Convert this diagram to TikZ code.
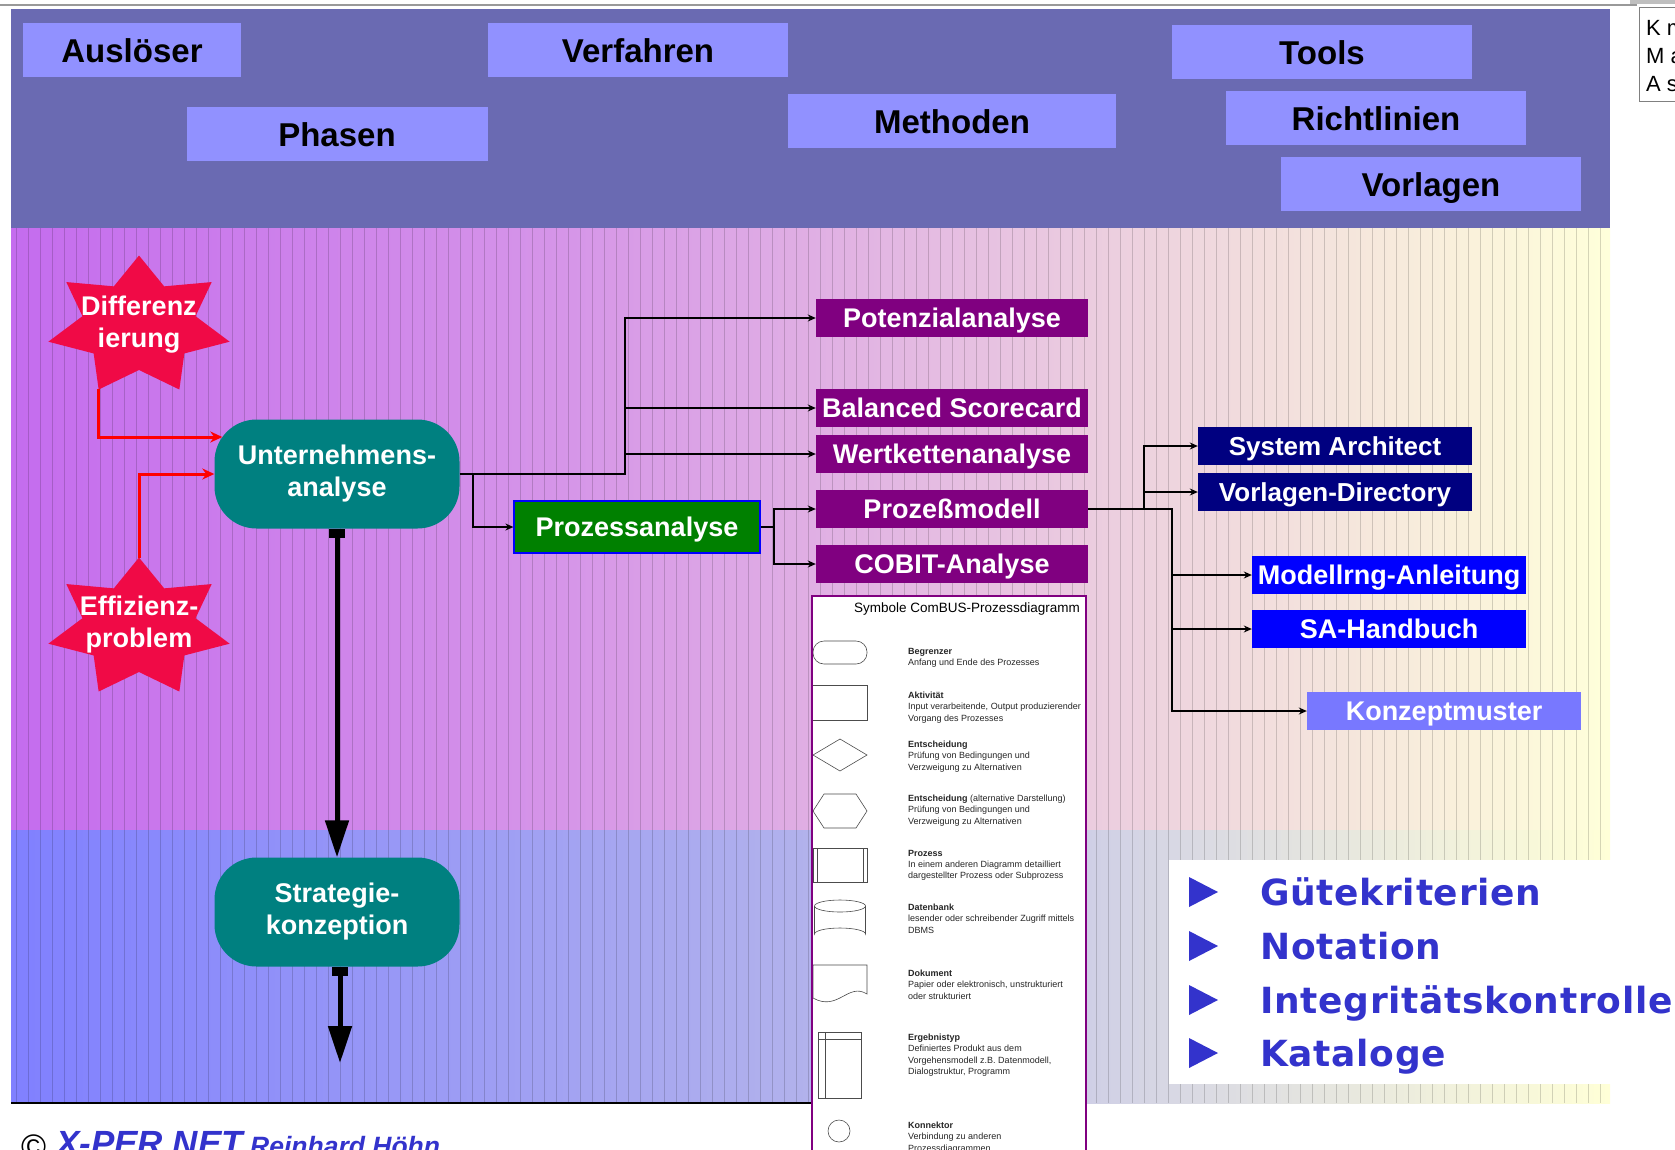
\documentclass[tikz,border=0pt]{standalone}
\usepackage{fontspec}
\setmainfont{Liberation Sans}
\newfontfamily\bulletfont[LetterSpace=2]{DejaVu Sans}
\usetikzlibrary{arrows.meta}

\definecolor{headband}{RGB}{106,106,178}
\definecolor{headfill}{RGB}{145,145,255}
\definecolor{starred}{RGB}{240,10,70}
\definecolor{phaseteal}{RGB}{0,128,128}
\definecolor{methpurple}{RGB}{128,0,128}
\definecolor{procgreen}{RGB}{0,128,0}
\definecolor{toolnavy}{RGB}{0,0,128}
\definecolor{guideblue}{RGB}{0,0,255}
\definecolor{patternblue}{RGB}{120,120,255}
\definecolor{bulletblue}{RGB}{51,51,204}

\pgfdeclarehorizontalshading{midband}{100bp}{rgb(0bp)=(0.769,0.424,0.933); rgb(25bp)=(0.769,0.424,0.933); rgb(42.5bp)=(0.839,0.588,0.91); rgb(50bp)=(0.878,0.686,0.894); rgb(61bp)=(0.933,0.831,0.871); rgb(75bp)=(1,1,0.855); rgb(100bp)=(1,1,0.855)}
\pgfdeclarehorizontalshading{lowband}{100bp}{rgb(0bp)=(0.502,0.502,1); rgb(25bp)=(0.502,0.502,1); rgb(50bp)=(0.698,0.698,0.925); rgb(61bp)=(0.843,0.843,0.894); rgb(75bp)=(1,1,0.843); rgb(100bp)=(1,1,0.843)}

\begin{document}
\begin{tikzpicture}[x=1pt,y=-1pt,
	headbox/.style={fill=headfill, minimum height=54pt, inner sep=0pt, text height=24pt, text depth=0pt, font=\fontsize{33}{36}\selectfont\bfseries},
	phase/.style={fill=phaseteal, rounded corners=42pt, minimum width=245pt, minimum height=109pt, align=center, text=white, font=\fontsize{27}{32}\selectfont\bfseries},
	startxt/.style={minimum width=182pt, minimum height=134pt, inner sep=0pt, align=center, text=white, font=\fontsize{27}{32}\selectfont\bfseries},
	methbox/.style={fill=methpurple, text=white, minimum width=272pt, minimum height=38pt, inner sep=0pt, text height=19.5pt, text depth=0pt, font=\fontsize{27}{30}\selectfont\bfseries},
	toolbox/.style={fill=toolnavy, text=white, minimum width=274pt, minimum height=38pt, inner sep=0pt, text height=19pt, text depth=0pt, font=\fontsize{26}{30}\selectfont\bfseries},
	guidebox/.style={toolbox, fill=guideblue, font=\fontsize{27}{30}\selectfont\bfseries},
	flow/.style={line width=1.6pt, -{Stealth[length=8pt,width=7pt]}},
	redflow/.style={red, line width=3pt, -{Stealth[length=12pt,width=11pt]}},
	mainflow/.style={line width=5pt, {Square[length=9pt,width=16pt]}-{Triangle[length=37pt,width=23pt]}},
	stripe/.style={black, opacity=0.16, line width=0.7pt},
	legtext/.style={anchor=north west, inner sep=0pt, align=left, text=black!85, font=\fontsize{9}{11.2}\selectfont},
	symb/.style={draw=black!70, line width=0.6pt},
	bullettxt/.style={anchor=base west, inner sep=0pt, text=bulletblue, font=\bulletfont\fontsize{36}{38}\selectfont\bfseries}]
	\useasboundingbox (0,0) rectangle (1675,1149);
	% bands
	\draw[black!40, line width=2pt] (0,5) -- (1637,5);
	\fill[headband] (11,9) rectangle (1610,228);
	\shade[shading=midband] (11,228) rectangle (1610,830);
	\shade[shading=lowband] (11,830) rectangle (1610,1103);
	\foreach \x in {16,28,...,1610}
		\draw[stripe] (\x,228) -- (\x,1103);
	\draw[line width=1.5pt] (11,1103) -- (812,1103);
	% corner fragment
	\fill[black!25] (1630,0) rectangle (1675,4);
	\draw[black!50, fill=white] (1639,7) rectangle (1700,101);
	\node[anchor=base west, inner sep=0pt, font=\fontsize{22}{24}\selectfont] (km) at (1646,35) {K m};
	\node[anchor=base west, inner sep=0pt, font=\fontsize{22}{24}\selectfont] (ma) at (1646,63) {M a};
	\node[anchor=base west, inner sep=0pt, font=\fontsize{22}{24}\selectfont] (as) at (1646,91) {A s};

	% header
	\node[headbox, minimum width=218pt] (ausl) at (132,50) {Auslöser};
	\node[headbox, minimum width=300pt] (verf) at (638,50) {Verfahren};
	\node[headbox, minimum width=301pt] (phas) at (337,134) {Phasen};
	\node[headbox, minimum width=328pt] (meth) at (952,121) {Methoden};
	\node[headbox, minimum width=300pt] (tool) at (1322,52) {Tools};
	\node[headbox, minimum width=300pt] (richt) at (1376,118) {Richtlinien};
	\node[headbox, minimum width=300pt] (vorl) at (1431,184) {Vorlagen};

	% legend
	\draw[methpurple, line width=2pt, fill=white] (812,596) rectangle (1086,1160);
	\begin{scope}
		\clip (813,597) rectangle (1085,1149);
		\node[anchor=west, inner sep=0pt, font=\fontsize{13.5}{15}\selectfont] (legtitle) at (854,609) {Symbole ComBUS-Prozessdiagramm};
		\draw[symb, rounded corners=11pt] (813,641) rectangle (867,664);
		\draw[symb] (812,685) rectangle (867,720);
		\draw[symb] (813,755) -- (840,739) -- (867,755) -- (840,771) -- cycle;
		\draw[symb] (813,811) -- (824,794) -- (856,794) -- (867,811) -- (856,828) -- (824,828) -- cycle;
		\draw[symb] (813,848) rectangle (867,882) (817,848) -- (817,882) (863,848) -- (863,882);
		\draw[symb] (840,906) ellipse (25.5 and 6);
		\draw[symb] (814.5,906) -- (814.5,934) arc (180:360:25.5 and 6) -- (865.5,906);
		\draw[symb] (813,998) -- (813,965) -- (867,965) -- (867,994) .. controls (848,982) and (838,1012) .. (813,998);
		\draw[symb] (818,1032) rectangle (861,1098) (825,1032) -- (825,1098) (818,1039) -- (861,1039);
		\draw[symb] (839,1131) circle (11);
		\node[legtext] (legbegr) at (908,648) {\textbf{Begrenzer}\\Anfang und Ende des Prozesses};
		\node[legtext] (legakt) at (908,692) {\textbf{Aktivität}\\Input verarbeitende, Output produzierender\\Vorgang des Prozesses};
		\node[legtext] (legent) at (908,741) {\textbf{Entscheidung}\\Prüfung von Bedingungen und\\Verzweigung zu Alternativen};
		\node[legtext] (legentalt) at (908,795) {\textbf{Entscheidung} (alternative Darstellung)\\Prüfung von Bedingungen und\\Verzweigung zu Alternativen};
		\node[legtext] (legproz) at (908,850) {\textbf{Prozess}\\In einem anderen Diagramm detailliert\\dargestellter Prozess oder Subprozess};
		\node[legtext] (legdb) at (908,904) {\textbf{Datenbank}\\lesender oder schreibender Zugriff mittels\\DBMS};
		\node[legtext] (legdok) at (908,970) {\textbf{Dokument}\\Papier oder elektronisch, unstrukturiert\\oder strukturiert};
		\node[legtext] (legerg) at (908,1034) {\textbf{Ergebnistyp}\\Definiertes Produkt aus dem\\Vorgehensmodell z.B. Datenmodell,\\Dialogstruktur, Programm};
		\node[legtext] (legkon) at (908,1122) {\textbf{Konnektor}\\Verbindung zu anderen\\Prozessdiagrammen};
	\end{scope}

	% bullet list
	\fill[white] (1169,860) rectangle (1675,1084);
	\foreach \name/\y/\txt in {gk/892/Gütekriterien, nt/946/Notation, ik/1000/Integritätskontrolle, kt/1053/Kataloge}{
		\fill[bulletblue] (1189,\y-15) -- (1218,\y) -- (1189,\y+15) -- cycle;
		\node[bullettxt] (\name) at (1260,\y+13) {\txt};
	}

	% triggers
	\foreach \cx/\cy in {139/326, 139/628}
		\fill[starred] plot[samples at={0,...,13}, variable=\k] ({\cx+(mod(\k,2)==0 ? 93 : 58)*cos(90+\k*360/14)}, {\cy-(mod(\k,2)==0 ? 70.5 : 44)*sin(90+\k*360/14)}) -- cycle;
	\node[startxt] (diff) at (139,325) {Differenz\\ierung};
	\node[startxt] (eff) at (139,625) {Effizienz-\\problem};

	% phases
	\node[phase] (unt) at (337,474) {Unternehmens-\\analyse};
	\node[phase] (stra) at (337,912) {Strategie-\\konzeption};
	\coordinate (exit) at (340,1063);

	% methods
	\node[methbox] (pot) at (952,318) {Potenzialanalyse};
	\node[methbox] (bal) at (952,408) {Balanced Scorecard};
	\node[methbox] (wert) at (952,454) {Wertkettenanalyse};
	\node[methbox] (pm) at (952,509) {Prozeßmodell};
	\node[methbox] (cobit) at (952,564) {COBIT-Analyse};
	\node[methbox, fill=procgreen, draw=blue, line width=1.2pt, minimum width=246pt, minimum height=52pt] (pa) at (637,527) {Prozessanalyse};

	% tools and guidelines
	\node[toolbox] (sysa) at (1335,446) {System Architect};
	\node[toolbox] (vdir) at (1335,492) {Vorlagen-Directory};
	\node[guidebox] (mod) at (1389,575) {Modellrng-Anleitung};
	\node[guidebox] (sah) at (1389,629) {SA-Handbuch};
	\node[guidebox, fill=patternblue] (konz) at (1444,711) {Konzeptmuster};

	% connectors
	\draw[redflow] ([xshift=-41pt,yshift=3pt]diff.south) |- ([xshift=8pt,yshift=37pt]unt.west);
	\draw[redflow] (eff.north) |- (unt.west);
	\draw[mainflow] (unt.south) -- (stra.north);
	\draw[mainflow] ([xshift=3pt]stra.south) -- (exit);
	\coordinate (fork1) at (625,474);
	\coordinate (fork2) at (473,474);
	\coordinate (fork3) at (774,527);
	\coordinate (fork4) at (1144,509);
	\coordinate (fork5) at (1172,509);
	\draw[flow] (unt.east) -- (fork1) |- (pot.west);
	\draw[flow] (fork1) |- (bal.west);
	\draw[flow] (fork1) |- (wert.west);
	\draw[flow] (fork2) |- (pa.west);
	\draw[flow] (pa.east) -- (fork3) |- (pm.west);
	\draw[flow] (fork3) |- (cobit.west);
	\draw[flow] (pm.east) -- (fork5) |- (mod.west);
	\draw[flow] (fork4) |- (sysa.west);
	\draw[flow] (fork4) |- (vdir.west);
	\draw[flow] (fork5) |- (sah.west);
	\draw[flow] (fork5) |- (konz.west);

	% footer
	\node[anchor=base west, inner sep=0pt, font=\fontsize{34}{36}\selectfont] (copysign) at (21,1158) {©};
	\node[anchor=base west, inner sep=0pt, text=bulletblue, font=\fontsize{35}{36}\selectfont\bfseries\itshape] (xper) at (56,1155) {X-PER NET};
	\node[anchor=base west, inner sep=0pt, text=bulletblue, font=\fontsize{26.5}{30}\selectfont\bfseries\itshape] (autor) at (250,1155) {Reinhard Höhn};
\end{tikzpicture}
\end{document}
